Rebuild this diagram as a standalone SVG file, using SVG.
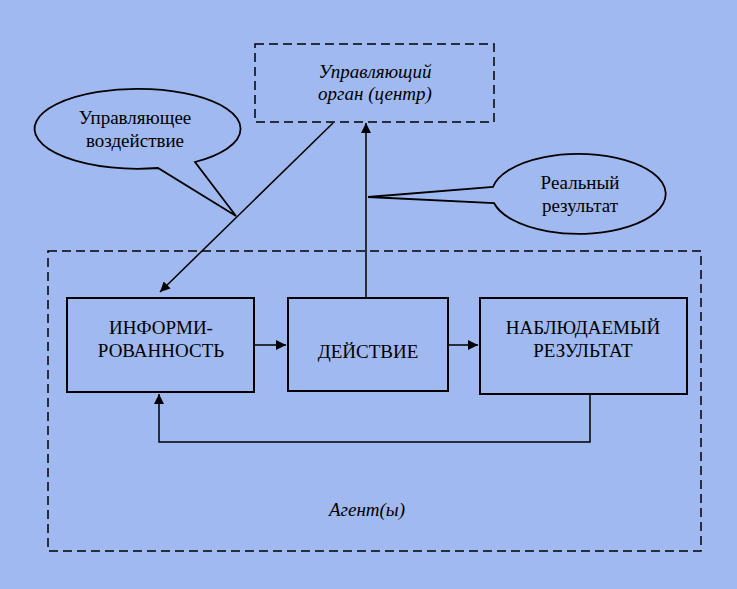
<svg xmlns="http://www.w3.org/2000/svg" width="737" height="589" viewBox="0 0 737 589">
<style>
.bg{fill:#A0B9F0}
.dash{fill:none;stroke:#000;stroke-width:1.5;stroke-dasharray:9,5}
.box{fill:none;stroke:#000;stroke-width:2}
.ln{fill:none;stroke:#000;stroke-width:1.5}
.bub{fill:#A0B9F0;stroke:#000;stroke-width:1.8}
text{font-family:'Liberation Serif','Times New Roman',serif;font-size:19px;fill:#000;text-anchor:middle}
.i{font-style:italic}
</style>
<defs>
<marker id="ah" viewBox="0 0 10 10" refX="10" refY="5" markerWidth="10" markerHeight="10" markerUnits="userSpaceOnUse" orient="auto">
<path d="M0,0 L10,5 L0,10 Z" fill="#000"/>
</marker>
</defs>
<rect class="bg" x="0" y="0" width="737" height="589"/>
<g id="agents">
<rect class="dash" x="48" y="251" width="653" height="300"/>
<text class="i" x="367" y="516" font-size="20">Агент(ы)</text>
</g>
<g id="center">
<rect class="dash" x="255" y="44" width="239" height="78"/>
<text class="i" x="375" y="78">Управляющий</text>
<text class="i" x="375" y="100">орган (центр)</text>
</g>
<g id="info">
<rect class="box" x="67" y="298" width="187" height="94"/>
<text x="161" y="334">ИНФОРМИ-</text>
<text x="161" y="357">РОВАННОСТЬ</text>
</g>
<g id="action">
<rect class="box" x="288" y="298" width="160" height="93"/>
<text x="368" y="358">ДЕЙСТВИЕ</text>
</g>
<g id="observed">
<rect class="box" x="480" y="298" width="207" height="96"/>
<text x="583" y="334">НАБЛЮДАЕМЫЙ</text>
<text x="583" y="357">РЕЗУЛЬТАТ</text>
</g>
<g id="connectors">
<line class="ln" x1="333" y1="123" x2="160" y2="292" marker-end="url(#ah)"/>
<line class="ln" x1="366" y1="298" x2="366" y2="123" marker-end="url(#ah)"/>
<line class="ln" x1="254" y1="345" x2="286" y2="345" marker-end="url(#ah)"/>
<line class="ln" x1="447" y1="345" x2="478" y2="345" marker-end="url(#ah)"/>
<polyline class="ln" points="590,394 590,442 159,442 159,394" marker-end="url(#ah)"/>
</g>
<g id="callout-control">
<path class="bub" d="M158,168 A103,40 0 1 1 195,162 L236,216 Z"/>
<text x="135" y="124">Управляющее</text>
<text x="135" y="147">воздействие</text>
</g>
<g id="callout-real">
<path class="bub" d="M493,187 A87,40 0 1 1 494,203 L368,197 Z"/>
<text x="580" y="189">Реальный</text>
<text x="580" y="212">результат</text>
</g>
</svg>
